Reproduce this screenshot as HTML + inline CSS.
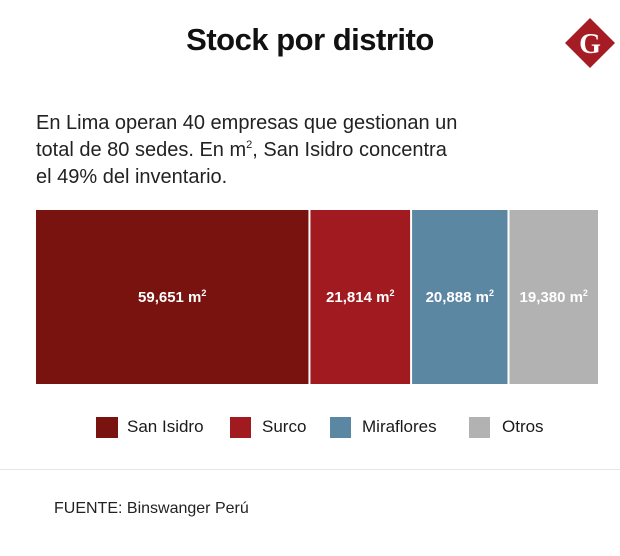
<!DOCTYPE html>
<html><head><meta charset="utf-8"><style>
body{margin:0;width:620px;height:556px;background:#fff;font-family:"Liberation Sans",sans-serif;position:relative;overflow:hidden;color:#1a1a1a}
.a{position:absolute}
sup{font-size:11px;line-height:0;vertical-align:8px}
</style></head><body>
<div class="a" style="left:0;width:620px;top:22px;text-align:center;font-size:31px;font-weight:bold;letter-spacing:-0.5px;color:#111">Stock por distrito</div>
<svg class="a" style="left:562px;top:15px" width="56" height="56" viewBox="0 0 56 56">
<polygon points="28,3 53,28 28,53 3,28" fill="#a51c24"/>
<text x="28" y="38" text-anchor="middle" font-family="Liberation Serif" font-weight="bold" font-size="28" fill="#fff">G</text></svg>
<div class="a" style="left:36px;top:110px;font-size:20px;line-height:27px;color:#222">En Lima operan 40 empresas que gestionan un<br>total de 80 sedes. En m<sup>2</sup>, San Isidro concentra<br>el 49% del inventario.</div>
<svg class="a" id="chart" style="left:0;top:0" width="620" height="400"></svg>
<div>
<div class="a" style="left:96px;top:417px;width:22px;height:21px;background:#78130f"></div>
<div class="a" style="left:127px;top:417px;font-size:17px">San Isidro</div>
<div class="a" style="left:230px;top:417px;width:21px;height:21px;background:#a01a20"></div>
<div class="a" style="left:262px;top:417px;font-size:17px">Surco</div>
<div class="a" style="left:330px;top:417px;width:21px;height:21px;background:#5b87a3"></div>
<div class="a" style="left:362px;top:417px;font-size:17px">Miraflores</div>
<div class="a" style="left:469px;top:417px;width:21px;height:21px;background:#b3b2b3"></div>
<div class="a" style="left:502px;top:417px;font-size:17px">Otros</div>
</div>
<div class="a" style="left:0;top:469px;width:620px;height:1px;background:#e6e6e6"></div>
<div class="a" style="left:54px;top:500px;font-size:16px;color:#222">FUENTE: Binswanger Perú</div>
<script>
const categories=["San Isidro","Surco","Miraflores","Otros"];
const values=[59651,21814,20888,19380];
const labels=["59,651","21,814","20,888","19,380"];
const colors=["#78130f","#a01a20","#5b87a3","#b3b2b3"];
const svg=document.getElementById('chart');const NS="http://www.w3.org/2000/svg";
const x0=36,x1=598,y0=210,h=174,gap=2;
const total=values.reduce((a,b)=>a+b,0);
const avail=x1-x0-gap*(values.length-1);
let x=x0;
values.forEach((v,i)=>{const w=v/total*avail;
const r=document.createElementNS(NS,'rect');
r.setAttribute('x',x);r.setAttribute('y',y0);r.setAttribute('width',w);r.setAttribute('height',h);r.setAttribute('fill',colors[i]);


svg.appendChild(r);
const t=document.createElementNS(NS,'text');
t.setAttribute('x',x+w/2);t.setAttribute('y',y0+h/2+5);t.setAttribute('text-anchor','middle');t.setAttribute('fill','#fff');t.setAttribute('font-size','15');t.setAttribute('font-weight','bold');t.setAttribute('font-family','Liberation Sans');
t.innerHTML=labels[i]+' m<tspan font-size="9" dy="-6">2</tspan>';


svg.appendChild(t);
x+=w+gap;});
</script>
</body></html>
